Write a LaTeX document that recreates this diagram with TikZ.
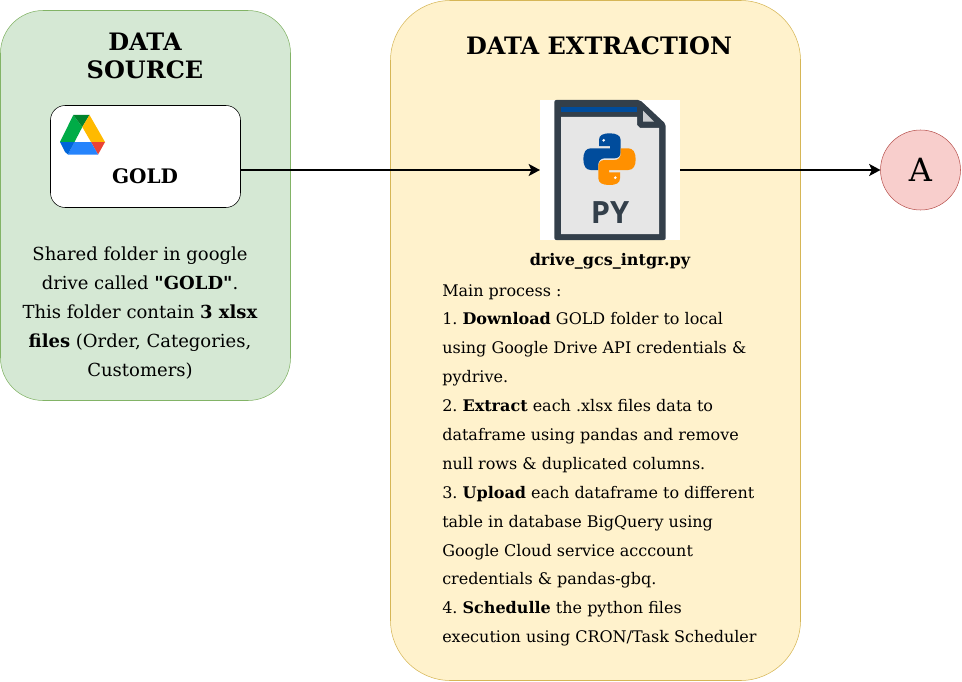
\documentclass[tikz,border=0pt]{standalone}
\usepackage{fontspec}
\setmainfont{DejaVu Serif}[Ligatures=TeXOff]
\newfontfamily\iconfont{Open Sans}
\usetikzlibrary{arrows.meta,positioning}
\definecolor{srcfill}{HTML}{D5E8D4}
\definecolor{srcline}{HTML}{82B366}
\definecolor{extfill}{HTML}{FFF2CC}
\definecolor{extline}{HTML}{D6B656}
\definecolor{afill}{HTML}{F8CECC}
\definecolor{aline}{HTML}{B85450}
\definecolor{icondark}{HTML}{333F4A}
\definecolor{icongrey}{HTML}{E6E6E6}
\definecolor{pyblue}{HTML}{004C9C}
\definecolor{pyorange}{HTML}{FF9000}
\tikzset{
  panel/.style={
    shape = rectangle,
    draw,
    outer sep = 0pt,
    inner sep = 0pt
  },
  title/.style={
    font = \fontsize{18pt}{21.5pt}\selectfont\bfseries,
    align = center,
    inner sep = 0pt
  },
  bodytext/.style={
    font = \fontsize{13.5pt}{21.7pt}\selectfont\frenchspacing,
    align = center,
    inner sep = 0pt
  },
  steptext/.style={
    font = \fontsize{12pt}{21.67pt}\selectfont\frenchspacing,
    align = left,
    inner sep = 0pt,
    anchor = north west
  },
  link/.style={
    -{Stealth[length=8.5pt,width=9pt,inset=2pt]},
    line width = 1.4pt
  }
}
\newcommand{\pysnake}{
  (240,130) .. controls (218,130) and (207,136) .. (207,150) -- (207,168) -- (240,168) -- (240,175)
  -- (182,175) .. controls (167,175) and (160,188) .. (160,207) .. controls (160,228) and (168,240) .. (182,240)
  -- (205,240) -- (205,224) .. controls (205,213) and (212,205) .. (224,205)
  -- (254,205) .. controls (265,205) and (272,197) .. (272,187)
  -- (272,150) .. controls (272,136) and (258,130) .. (240,130) -- cycle
}
\begin{document}
\begin{tikzpicture}[x=0.75pt,y=-0.75pt]
  \useasboundingbox (0,0) rectangle (962,681);
  % panels
  \node[panel,fill=srcfill,draw=srcline,rounded corners=32pt,minimum width=217.5pt,minimum height=292.5pt] (srcpanel) at (145.5,205.5) {};
  \node[panel,fill=extfill,draw=extline,rounded corners=45pt,minimum width=307.5pt,minimum height=510pt] (extpanel) at (595.5,340.5) {};
  % titles
  \node[title] (srctitle) at (145,56) {DATA\\SOURCE};
  \node[title] (exttitle) at (599,46) {DATA EXTRACTION};
  % gold folder
  \node[panel,fill=white,draw=black,rounded corners=11pt,minimum width=142.5pt,minimum height=76.5pt] (goldbox) at (145.5,156.5) {};
  \node[inner sep=0pt,font=\fontsize{15pt}{18pt}\selectfont\bfseries] (goldtext) at (145,176) {GOLD};
  \fill[color={rgb,255:red,0;green,172;blue,71}] (73.3,115) -- (82.3,127) -- (74.5,142) -- (60,142) -- cycle;
  \fill[color={rgb,255:red,0;green,131;blue,45}] (73.3,115) -- (89.5,115) -- (82.3,127) -- cycle;
  \fill[color={rgb,255:red,255;green,186;blue,0}] (89.5,115) -- (105,142) -- (91,142) -- (82.3,127) -- cycle;
  \fill[color={rgb,255:red,234;green,67;blue,53}] (91,142) -- (105,142) -- (100,151) -- (98,154.5) -- cycle;
  \fill[color={rgb,255:red,38;green,132;blue,252}] (74.5,142) -- (91,142) -- (98,154.5) -- (68,154.5) -- cycle;
  \fill[color={rgb,255:red,0;green,102;blue,218}] (60,142) -- (74.5,142) -- (68,154.5) -- (65,152) -- cycle;
  \node[bodytext,anchor=north] (srctext) at (140,247) {Shared folder in google\\drive called \textbf{"GOLD"}.\\This folder contain \textbf{3 xlsx}\\\textbf{files} (Order, Categories,\\Customers)};
  % python file
  \node[panel,fill=white,draw=none,minimum width=105pt,minimum height=105pt] (pyicon) at (610,170) {};
  \fill[icondark,rounded corners=1.5pt] (554.3,100) -- (640,100) -- (665.7,124) -- (665.7,240) -- (554.3,240) -- cycle;
  \fill[icongrey] (561,117) -- (637,117) -- (637,125) -- (640,128) -- (659,128) -- (659,234) -- (561,234) -- cycle;
  \fill[pyblue] (561,106.7) rectangle (637,111.7);
  \fill[icongrey!85!icondark] (643,110.7) -- (654,121.7) -- (643,121.7) -- cycle;
  \begin{scope}[shift={(530,90)},x=0.25pt,y=-0.25pt]
    \fill[pyblue] \pysnake;
    \fill[pyorange,rotate around={180:(238.5,207.5)}] \pysnake;
    \fill[white] (221,151) circle (1.1pt);
    \fill[white] (256,263) circle (1.1pt);
  \end{scope}
  \node[inner sep=0pt,text=icondark,font=\fontsize{23pt}{24pt}\selectfont\iconfont\bfseries] (pylabel) at (610,213) {PY};
  \node[inner sep=0pt,font=\fontsize{12pt}{14pt}\selectfont\bfseries] (pyname) at (610,261) {drive\_gcs\_intgr.py};
  \node[steptext] (steps) at (442,284) {Main process :\\
    1. \textbf{Download} GOLD folder to local\\
    using Google Drive API credentials \&\\
    pydrive.\\
    2. \textbf{Extract} each .xlsx files data to\\
    dataframe using pandas and remove\\
    null rows \& duplicated columns.\\
    3. \textbf{Upload} each dataframe to different\\
    table in database BigQuery using\\
    Google Cloud service acccount\\
    credentials \& pandas-gbq.\\
    4. \textbf{Schedulle} the python files\\
    execution using CRON/Task Scheduler};
  % off-page connector
  \node[panel,shape=circle,fill=afill,draw=aline,minimum size=60pt,font=\fontsize{24pt}{28pt}\selectfont] (nodea) at (920.5,170) {A};
  \draw[link] (goldbox.east |- pyicon.west) -- (pyicon.west);
  \draw[link] (pyicon.east) -- (nodea.west);
\end{tikzpicture}
\end{document}
